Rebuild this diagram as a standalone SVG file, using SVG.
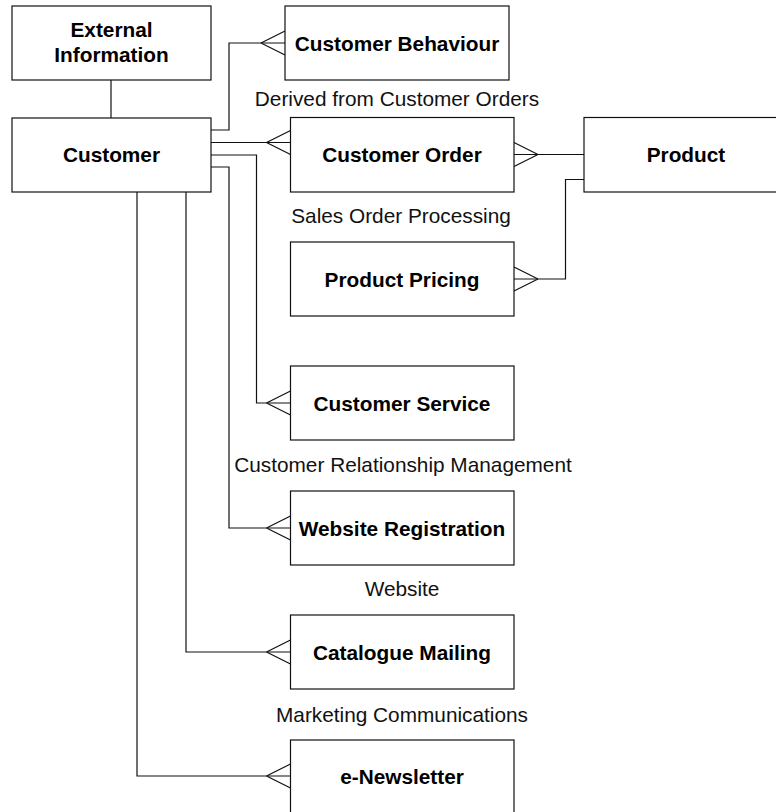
<svg xmlns="http://www.w3.org/2000/svg" width="776" height="812" viewBox="0 0 776 812">
  <style>
    .box { fill: #ffffff; stroke: #111; stroke-width: 1.2; }
    .wire { fill: none; stroke: #111; stroke-width: 1.2; }
    .name { font-family: "Liberation Sans", Arial, sans-serif; font-size: 20.8px; font-weight: bold; fill: #000; text-anchor: middle; }
    .area { font-family: "Liberation Sans", Arial, sans-serif; font-size: 20.8px; fill: #111; text-anchor: middle; }
  </style>
  <rect width="776" height="812" fill="#ffffff"/>

  <!-- relationship lines with crow's-foot ends -->
  <g id="connectors" class="wire">
    <path d="M111,80 V118"/>
    <!-- Customer to Customer Behaviour -->
    <path d="M211,130 H229 V43 H285"/>
    <path d="M261,43 L285,31 M261,43 L285,55"/>
    <!-- Customer to Customer Order -->
    <path d="M211,142.5 H290.5"/>
    <path d="M266.5,142.5 L290.5,130.5 M266.5,142.5 L290.5,154.5"/>
    <!-- Customer to Customer Service -->
    <path d="M211,155 H256.5 V403 H290.5"/>
    <path d="M266.5,403 L290.5,391 M266.5,403 L290.5,415"/>
    <!-- Customer to Website Registration -->
    <path d="M211,167 H229 V528 H290.5"/>
    <path d="M266.5,528 L290.5,516 M266.5,528 L290.5,540"/>
    <!-- Customer to Catalogue Mailing -->
    <path d="M186,192 V652 H290.5"/>
    <path d="M266.5,652 L290.5,640 M266.5,652 L290.5,664"/>
    <!-- Customer to e-Newsletter -->
    <path d="M137,192 V776 H290.5"/>
    <path d="M266.5,776 L290.5,764 M266.5,776 L290.5,788"/>
    <!-- Customer Order to Product -->
    <path d="M514,154.5 H584"/>
    <path d="M538,154.5 L514,142.5 M538,154.5 L514,166.5"/>
    <!-- Product Pricing to Product -->
    <path d="M514,279 H565.5 V179.5 H584"/>
    <path d="M538,279 L514,267 M538,279 L514,291"/>
  </g>

  <g id="external-information">
    <rect class="box" x="12" y="6" width="199" height="74"/>
    <text class="name" x="111.5" y="36.5">External</text>
    <text class="name" x="111.5" y="61.5">Information</text>
  </g>
  <g id="customer">
    <rect class="box" x="12" y="118" width="199" height="74"/>
    <text class="name" x="111.5" y="162">Customer</text>
  </g>
  <g id="customer-behaviour">
    <rect class="box" x="285" y="6" width="224" height="74"/>
    <text class="name" x="397" y="50.5">Customer Behaviour</text>
  </g>
  <g id="customer-order">
    <rect class="box" x="290.5" y="117.5" width="223.5" height="74.5"/>
    <text class="name" x="402" y="162">Customer Order</text>
  </g>
  <g id="product">
    <rect class="box" x="584" y="117.5" width="204" height="74.5"/>
    <text class="name" x="686" y="161.5">Product</text>
  </g>
  <g id="product-pricing">
    <rect class="box" x="290.5" y="242" width="223.5" height="74"/>
    <text class="name" x="402" y="286.5">Product Pricing</text>
  </g>
  <g id="customer-service">
    <rect class="box" x="290.5" y="366" width="223.5" height="74"/>
    <text class="name" x="402" y="410.5">Customer Service</text>
  </g>
  <g id="website-registration">
    <rect class="box" x="290.5" y="491" width="223.5" height="74"/>
    <text class="name" x="402" y="535.5">Website Registration</text>
  </g>
  <g id="catalogue-mailing">
    <rect class="box" x="290.5" y="615" width="223.5" height="74"/>
    <text class="name" x="402" y="659.5">Catalogue Mailing</text>
  </g>
  <g id="e-newsletter">
    <rect class="box" x="290.5" y="740" width="223.5" height="74"/>
    <text class="name" x="402" y="783.5">e-Newsletter</text>
  </g>

  <!-- system area captions -->
  <g id="captions">
    <text class="area" x="397" y="106">Derived from Customer Orders</text>
    <text class="area" x="401" y="223">Sales Order Processing</text>
    <text class="area" x="403" y="472">Customer Relationship Management</text>
    <text class="area" x="402" y="596">Website</text>
    <text class="area" x="402" y="722">Marketing Communications</text>
  </g>
</svg>
